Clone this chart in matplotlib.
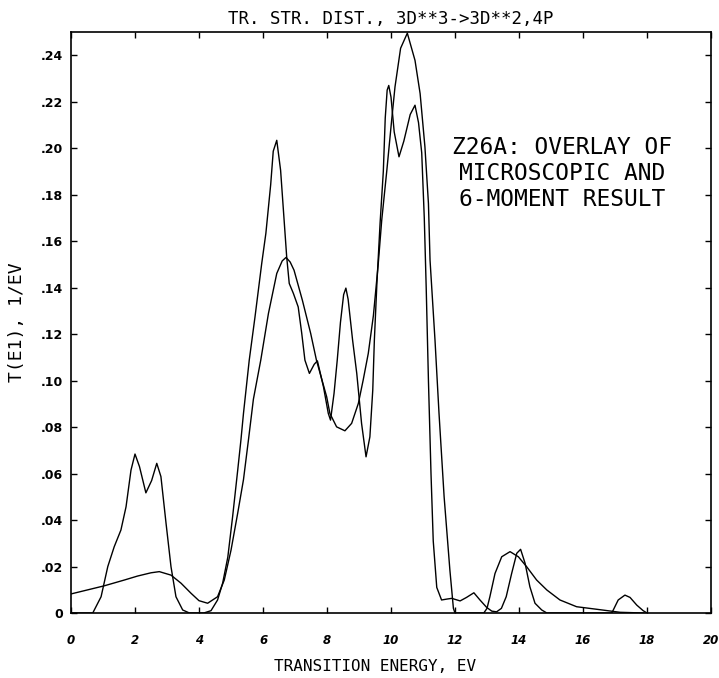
import matplotlib
matplotlib.use('Agg')
import matplotlib.pyplot as plt
from matplotlib.ticker import FuncFormatter, MultipleLocator

plt.rcParams['font.family'] = ['DejaVu Sans Mono', 'DejaVu Sans']

# microscopic result (jagged curve)
micro_x = [0.0, 0.68, 0.94, 1.15, 1.35, 1.56, 1.72, 1.875, 2.0, 2.14, 2.34, 2.52, 2.68, 2.81,
           2.97, 3.125, 3.28, 3.49, 3.7, 4.15, 4.375, 4.58, 4.74, 4.9, 5.05, 5.21, 5.31, 5.39,
           5.57, 5.75, 5.96, 6.09, 6.24, 6.32, 6.43, 6.55, 6.66, 6.74, 6.82, 6.95, 7.1, 7.21,
           7.31, 7.45, 7.6, 7.7, 7.89, 8.04, 8.11, 8.22, 8.32, 8.42, 8.52, 8.59, 8.66, 8.8,
           8.93, 9.08, 9.22, 9.34, 9.43, 9.48, 9.56, 9.66, 9.76, 9.82, 9.88, 9.93, 10.0, 10.1,
           10.25, 10.4, 10.6, 10.75, 10.86, 10.96, 11.04, 11.1, 11.17, 11.25, 11.32, 11.43,
           11.58, 11.75, 11.9, 12.16, 12.36, 12.59, 12.78, 12.99, 13.15, 13.3, 13.45, 13.6,
           13.77, 13.93, 14.05, 14.19, 14.34, 14.5, 14.71, 14.87, 16.9, 17.1, 17.31, 17.47,
           17.68, 17.88, 18.0]
micro_y = [0.0, 0.0, 0.007, 0.020, 0.0285, 0.0357, 0.0457, 0.0615, 0.0684, 0.063, 0.0517, 0.057,
           0.0644, 0.0587, 0.0386, 0.0199, 0.007, 0.0013, 0.0, 0.0, 0.001, 0.0056, 0.0129, 0.024,
           0.0414, 0.0615, 0.0744, 0.0859, 0.1088, 0.1274, 0.1504, 0.1634, 0.1843, 0.1987,
           0.2034, 0.1905, 0.169, 0.1533, 0.1418, 0.1375, 0.1317, 0.1204, 0.1088, 0.1031, 0.107,
           0.1085, 0.0973, 0.0859, 0.083, 0.0945, 0.1088, 0.125, 0.137, 0.1398, 0.135, 0.1174,
           0.1031, 0.0816, 0.0672, 0.0758, 0.0959, 0.1174, 0.142, 0.168, 0.19, 0.213, 0.225,
           0.227, 0.222, 0.207, 0.1963, 0.203, 0.2145, 0.2185, 0.211, 0.198, 0.17, 0.14, 0.10,
           0.06, 0.031, 0.011, 0.0056, 0.006, 0.0063, 0.0052, 0.0067, 0.0087, 0.0056, 0.0024,
           0.0008, 0.0005, 0.002, 0.007, 0.017, 0.0257, 0.0274, 0.0214, 0.0113, 0.0042, 0.0013,
           0.0, 0.0, 0.0056, 0.0077, 0.0067, 0.0034, 0.001, 0.0]

# 6-moment result (smooth curve)
moment_x = [0.0, 1.04, 1.67, 2.08, 2.5, 2.76, 3.125, 3.44, 3.75, 4.0, 4.27, 4.58, 4.79, 5.0,
            5.21, 5.39, 5.55, 5.7, 5.93, 6.17, 6.43, 6.6, 6.72, 6.85, 6.97, 7.23, 7.49, 7.67,
            7.99, 8.09, 8.3, 8.56, 8.77, 8.98, 9.13, 9.29, 9.45, 9.6, 9.71, 9.87, 10.02, 10.125,
            10.3, 10.51, 10.75, 10.91, 11.06, 11.17, 11.22, 11.375, 11.5, 11.66, 11.84, 11.95,
            12.0, 12.9, 13.0, 13.09, 13.25, 13.46, 13.72, 13.98, 14.24, 14.55, 14.87, 15.28,
            15.8, 16.43, 17.16, 17.9]
moment_y = [0.0082, 0.0117, 0.0142, 0.0159, 0.0173, 0.0178, 0.0163, 0.0128, 0.0085, 0.0053,
            0.0042, 0.007, 0.0142, 0.027, 0.043, 0.0574, 0.075, 0.092, 0.1088, 0.1289, 0.1461,
            0.1515, 0.153, 0.151, 0.1475, 0.1346, 0.1203, 0.1088, 0.093, 0.0859, 0.0801, 0.0784,
            0.0816, 0.0902, 0.1002, 0.1117, 0.128, 0.15, 0.169, 0.1905, 0.212, 0.2264, 0.243,
            0.2495, 0.2378, 0.2235, 0.2006, 0.1762, 0.1518, 0.1174, 0.086, 0.05, 0.0185, 0.002,
            0.0, 0.0, 0.002, 0.007, 0.017, 0.0242, 0.0264, 0.0242, 0.0199, 0.0142, 0.0099,
            0.0056, 0.0027, 0.0016, 0.0003, 0.0]

fig = plt.figure(figsize=(7.19, 6.78), dpi=100)
ax = fig.add_axes([71 / 719, 1 - 613 / 678, 640 / 719, 581 / 678])

ax.plot(micro_x, micro_y, color='black', linewidth=1.0)
ax.plot(moment_x, moment_y, color='black', linewidth=1.0)

ax.set_xlim(0, 20)
ax.set_ylim(0, 0.25)
ax.xaxis.set_major_locator(MultipleLocator(2))
ax.yaxis.set_major_locator(MultipleLocator(0.02))
ax.yaxis.set_major_formatter(FuncFormatter(lambda v, p: '0' if abs(v) < 1e-9 else f'{v:.2f}'.lstrip('0')))
ax.tick_params(direction='in', length=4.5, width=1.0, top=True, right=True)
ax.tick_params(axis='x', pad=15)
ax.tick_params(axis='y', pad=6)
for lab in ax.get_xticklabels():
    lab.set_fontfamily('DejaVu Sans')
    lab.set_fontweight('bold')
    lab.set_fontstyle('italic')
    lab.set_fontsize(8.5)
for lab in ax.get_yticklabels():
    lab.set_fontfamily('DejaVu Sans')
    lab.set_fontweight('bold')
    lab.set_fontsize(9)
for sp in ax.spines.values():
    sp.set_linewidth(1.2)

ax.set_title('TR. STR. DIST., 3D**3->3D**2,4P', fontsize=12.5, pad=6)
ax.set_xlabel('TRANSITION ENERGY, EV', fontsize=11.5, va='center')
ax.xaxis.set_label_coords(0.475, -0.092)
ax.set_ylabel('T(E1), 1/EV', fontsize=13)
ax.yaxis.set_label_coords(-0.071, 0.5)

ax.text(0.767, 0.756, 'Z26A: OVERLAY OF\nMICROSCOPIC AND\n6-MOMENT RESULT',
        transform=ax.transAxes, ha='center', va='center', multialignment='center',
        fontsize=16.5, linespacing=1.16)

plt.savefig('out.png', dpi=100)
